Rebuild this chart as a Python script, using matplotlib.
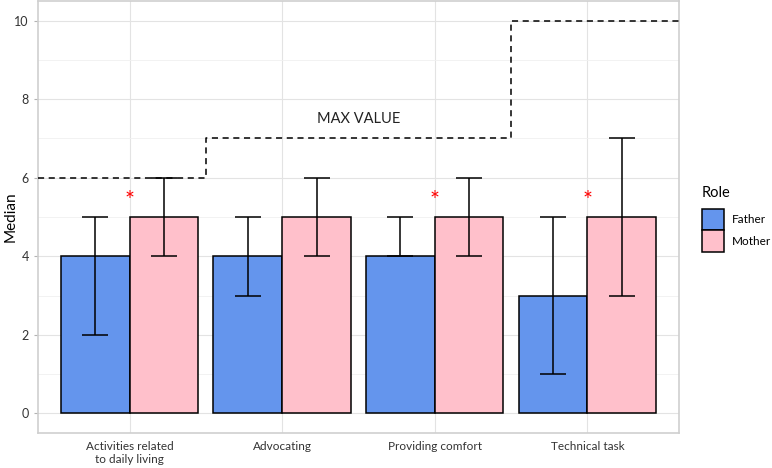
import matplotlib
matplotlib.use("Agg")
import matplotlib.pyplot as plt
from matplotlib.patches import Patch
import numpy as np

plt.rcParams['font.family'] = ['Lato', 'DejaVu Sans']

categories = ["Activities related\nto daily living", "Advocating", "Providing comfort", "Technical task"]
father_median = [4, 4, 4, 3]
father_low = [2, 3, 4, 1]
father_high = [5, 5, 5, 5]
mother_median = [5, 5, 5, 5]
mother_low = [4, 4, 4, 3]
mother_high = [6, 6, 6, 7]
max_values = [6, 7, 7, 10]
significant = [True, False, True, True]
star_y = 5.42

father_color = "#6495ED"
mother_color = "#FFC0CB"

fig = plt.figure(figsize=(7.72, 4.68), dpi=100)
ax = fig.add_axes([0.0492, 0.0748, 0.8303, 0.923])

x = np.arange(1, len(categories) + 1)
w = 0.45

ax.bar(x - w/2, father_median, width=w, color=father_color, edgecolor="black", linewidth=1.1, zorder=3)
ax.bar(x + w/2, mother_median, width=w, color=mother_color, edgecolor="black", linewidth=1.1, zorder=3)

fm = np.array(father_median); mm = np.array(mother_median)
ax.errorbar(x - w/2, fm, yerr=[fm - np.array(father_low), np.array(father_high) - fm],
            fmt="none", ecolor="black", elinewidth=1.1, capsize=9.5, capthick=1.1, zorder=4)
ax.errorbar(x + w/2, mm, yerr=[mm - np.array(mother_low), np.array(mother_high) - mm],
            fmt="none", ecolor="black", elinewidth=1.1, capsize=9.5, capthick=1.1, zorder=4)

# max value step line
xs = [0.4] + [i + 0.5 for i in x[:-1]] + [4.6]
ys = list(max_values) + [max_values[-1]]
ax.step(xs, ys, where="post", color="black", linestyle=(0, (4, 3)), linewidth=1.1, zorder=5)
ax.text(2.5, 7.5, "MAX VALUE", ha="center", va="center", fontsize=10.5, color="#222222")

for xi, s in zip(x, significant):
    if s:
        ax.text(xi, star_y, "*", color="red", ha="center", va="center", fontsize=17, zorder=6)

ax.set_xlim(0.4, 4.6)
ax.set_ylim(-0.5, 10.5)
ax.set_xticks(x)
ax.set_xticklabels(categories, fontsize=8.5, color="#333333")
ax.set_yticks([0, 2, 4, 6, 8, 10])
ax.set_yticks([1, 3, 5, 7, 9], minor=True)
ax.tick_params(axis="y", which="major", labelsize=9, colors="#333333", length=3, color="#b3b3b3")
ax.tick_params(axis="y", which="minor", length=0)
ax.tick_params(axis="x", length=0, pad=6)
ax.set_ylabel("Median", fontsize=11, color="black")
ax.yaxis.set_label_coords(-0.031, 0.5)

ax.grid(True, which="major", color="#e3e3e3", linewidth=0.8, zorder=0)
ax.grid(True, which="minor", axis="y", color="#f0f0f0", linewidth=0.6, zorder=0)
ax.set_axisbelow(True)
for sp in ax.spines.values():
    sp.set_color("#cfcfcf")
    sp.set_linewidth(1.2)

handles = [Patch(facecolor=father_color, edgecolor="black", linewidth=1.1, label="Father"),
           Patch(facecolor=mother_color, edgecolor="black", linewidth=1.1, label="Mother")]
leg = fig.legend(handles=handles, title="Role", loc="center left", bbox_to_anchor=(702/772, 1 - 219/468),
                 frameon=False, fontsize=8.5, title_fontsize=10.5, handlelength=1.86, handleheight=2.4,
                 handletextpad=0.68, labelspacing=0.05, borderpad=0, borderaxespad=0)
leg._legend_box.align = "left"
leg._legend_box.sep = 6

fig.savefig("out.png", dpi=100)
